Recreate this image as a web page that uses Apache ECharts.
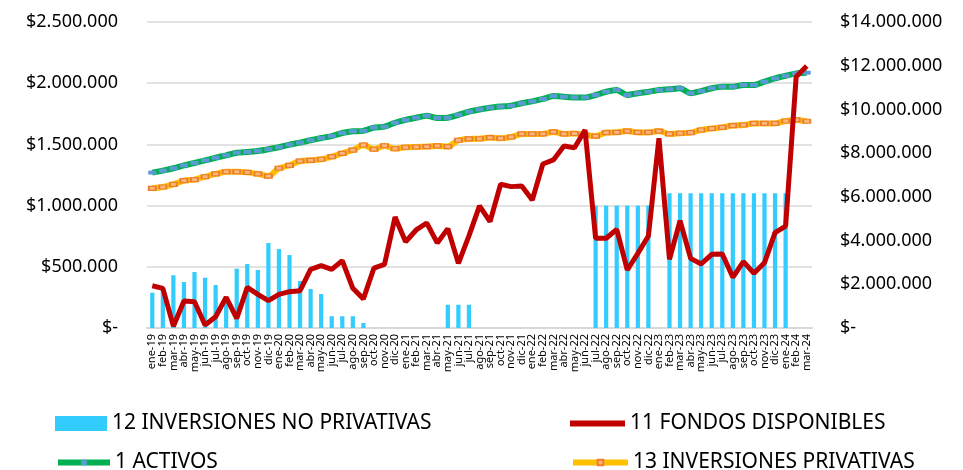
<!DOCTYPE html>
<html>
<head>
<meta charset="utf-8">
<script src="https://cdn.jsdelivr.net/npm/echarts@6.0.0/dist/echarts.min.js"></script>
<style>
  html, body { margin: 0; padding: 0; background: #fff; }
  #chart { width: 963px; height: 470px; }
</style>
</head>
<body>
<div id="chart"></div>
<script>
const months = [
  "ene-19", "feb-19", "mar-19", "abr-19", "may-19", "jun-19", "jul-19", "ago-19", "sep-19", "oct-19", "nov-19", "dic-19",
  "ene-20", "feb-20", "mar-20", "abr-20", "may-20", "jun-20", "jul-20", "ago-20", "sep-20", "oct-20", "nov-20", "dic-20",
  "ene-21", "feb-21", "mar-21", "abr-21", "may-21", "jun-21", "jul-21", "ago-21", "sep-21", "oct-21", "nov-21", "dic-21",
  "ene-22", "feb-22", "mar-22", "abr-22", "may-22", "jun-22", "jul-22", "ago-22", "sep-22", "oct-22", "nov-22", "dic-22",
  "ene-23", "feb-23", "mar-23", "abr-23", "may-23", "jun-23", "jul-23", "ago-23", "sep-23", "oct-23", "nov-23", "dic-23",
  "ene-24", "feb-24", "mar-24"
];

// eje izquierdo
const inversionesNoPrivativas = [
  288000, 310000, 431000, 376000, 457000, 411000, 351000, 250000, 485000, 523000, 474000, 694000,
  645000, 596000, 384000, 319000, 278000, 96000, 96000, 96000, 41000, 0, 0, 0,
  0, 0, 0, 0, 190000, 190000, 190000, 0, 0, 0, 0, 0,
  0, 0, 0, 0, 0, 0, 1000000, 1000000, 1000000, 1000000, 1000000, 1000000,
  0, 1100000, 1100000, 1100000, 1100000, 1100000, 1100000, 1100000, 1100000, 1100000, 1100000, 1100000,
  1100000, 0, 0
];

const fondosDisponibles = [
  345000, 324000, 15000, 221000, 215000, 25000, 92000, 251000, 79000, 332000, 275000, 223000,
  275000, 297000, 305000, 479000, 509000, 479000, 550000, 324000, 238000, 490000, 519000, 907000,
  705000, 801000, 858000, 695000, 812000, 528000, 753000, 998000, 869000, 1174000, 1155000, 1160000,
  1046000, 1340000, 1373000, 1487000, 1472000, 1618000, 733000, 733000, 806000, 474000, 610000, 752000,
  1550000, 561000, 877000, 569000, 523000, 602000, 605000, 414000, 542000, 447000, 534000, 779000,
  833000, 2053000, 2140000
];

// eje derecho
const activos = [
  7110000, 7200000, 7310000, 7440000, 7550000, 7670000, 7790000, 7900000, 8020000, 8050000, 8100000, 8180000,
  8270000, 8390000, 8480000, 8590000, 8690000, 8780000, 8920000, 9000000, 9020000, 9170000, 9210000, 9390000,
  9520000, 9620000, 9710000, 9610000, 9620000, 9750000, 9900000, 10000000, 10080000, 10130000, 10170000, 10280000,
  10370000, 10480000, 10610000, 10580000, 10550000, 10550000, 10660000, 10810000, 10890000, 10660000, 10740000, 10810000,
  10890000, 10920000, 10970000, 10740000, 10840000, 10970000, 11040000, 11040000, 11120000, 11120000, 11270000, 11420000,
  11540000, 11650000, 11680000
];

const inversionesPrivativas = [
  6390000, 6450000, 6570000, 6740000, 6790000, 6920000, 7050000, 7150000, 7150000, 7120000, 7050000, 6950000,
  7310000, 7440000, 7640000, 7670000, 7720000, 7840000, 7990000, 8140000, 8370000, 8180000, 8340000, 8200000,
  8270000, 8280000, 8300000, 8330000, 8300000, 8590000, 8650000, 8660000, 8710000, 8680000, 8740000, 8880000,
  8880000, 8880000, 8970000, 8880000, 8900000, 8830000, 8780000, 8940000, 8950000, 9010000, 8950000, 8950000,
  9010000, 8880000, 8910000, 8940000, 9060000, 9130000, 9180000, 9260000, 9290000, 9360000, 9360000, 9360000,
  9470000, 9520000, 9460000
];

function money(v) {
  if (v === 0) return "$-";
  return "$" + String(v).replace(/\B(?=(\d{3})+(?!\d))/g, ".");
}

const font = "'Noto Sans', sans-serif";
let legendText = { color: "#000", fontSize: 21, fontFamily: font };

let chart = echarts.init(document.getElementById("chart"));
let option = {
  animation: false,
  grid: { left: 147, right: 151, top: 22, bottom: 142 },
  legend: [
    {
      left: 50, top: 408, itemWidth: 52, itemHeight: 15, textStyle: legendText,
      data: [{ name: "12 INVERSIONES NO PRIVATIVAS", icon: "rect" }]
    },
    {
      left: 565, top: 408, itemWidth: 55, itemHeight: 6, textStyle: legendText,
      data: [{ name: "11 FONDOS DISPONIBLES", icon: "path://M0,0H55V6H0Z" }]
    },
    {
      left: 50, top: 447, itemWidth: 52, itemHeight: 7, textStyle: legendText,
      data: [{ name: "1 ACTIVOS", lineStyle: { width: 6 } }]
    },
    {
      left: 565, top: 447, itemWidth: 55, itemHeight: 7, textStyle: legendText,
      data: [{ name: "13 INVERSIONES PRIVATIVAS", lineStyle: { width: 6 } }]
    }
  ],
  xAxis: {
    type: "category",
    data: months,
    axisLine: { lineStyle: { color: "#d9d9d9", width: 2 } },
    axisTick: { lineStyle: { color: "#d9d9d9" }, length: 4 },
    axisLabel: { rotate: 90, interval: 0, fontSize: 11, color: "#000", fontFamily: font, margin: 6 }
  },
  yAxis: [
    {
      type: "value",
      min: 0,
      max: 2500000,
      interval: 500000,
      axisLabel: { formatter: money, fontSize: 18, color: "#000", fontFamily: font, margin: 29 },
      splitLine: { lineStyle: { color: "#d9d9d9", width: 1.5 } }
    },
    {
      type: "value",
      min: 0,
      max: 14000000,
      interval: 2000000,
      axisLabel: { formatter: money, fontSize: 18, color: "#000", fontFamily: font, margin: 28 },
      splitLine: { show: false }
    }
  ],
  series: [
    {
      name: "12 INVERSIONES NO PRIVATIVAS",
      type: "bar",
      yAxisIndex: 0,
      barWidth: "40%",
      itemStyle: { color: "#33ccff" },
      data: inversionesNoPrivativas
    },
    {
      name: "1 ACTIVOS",
      type: "line",
      yAxisIndex: 1,
      z: 3,
      smooth: 0.2,
      symbol: "rect",
      symbolSize: [8, 4],
      showAllSymbol: true,
      lineStyle: { color: "#00b050", width: 6 },
      itemStyle: { color: "#5b9bd5" },
      data: activos
    },
    {
      name: "13 INVERSIONES PRIVATIVAS",
      type: "line",
      yAxisIndex: 1,
      z: 3,
      smooth: 0.2,
      symbol: "rect",
      symbolSize: [7, 4],
      showAllSymbol: true,
      lineStyle: { color: "#ffc000", width: 6 },
      itemStyle: { color: "#f8b878", borderColor: "#ed7d31", borderWidth: 1.5 },
      data: inversionesPrivativas
    },
    {
      name: "11 FONDOS DISPONIBLES",
      type: "line",
      yAxisIndex: 0,
      z: 4,
      symbol: "none",
      lineStyle: { color: "#c00000", width: 5 },
      itemStyle: { color: "#c00000" },
      data: fondosDisponibles
    }
  ]
};

chart.setOption(option);
</script>
</body>
</html>
